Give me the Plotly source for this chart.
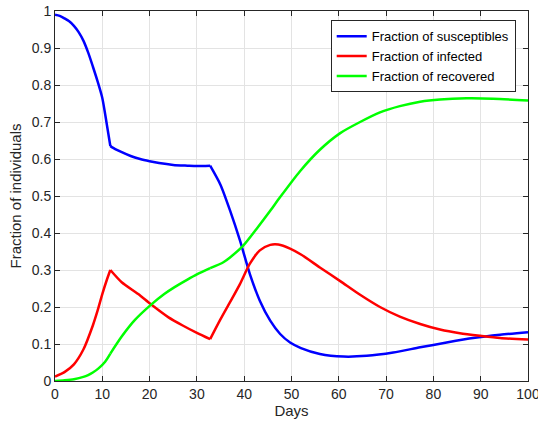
import plotly.graph_objects as go

t_s = [0, 1, 2, 3, 4, 5, 6, 7, 8, 9, 10, 11, 11.7,
       12, 14, 16, 18, 20, 22, 25, 28, 30, 32.8,
       35, 37, 39.1, 41.2, 43.3, 45.5, 47.6, 49.7, 52, 56, 61, 65.9, 71.5, 77.2, 82.8, 88.4, 94.1, 100]
susceptible = [0.99, 0.987, 0.98, 0.972, 0.96, 0.943, 0.92, 0.888, 0.85, 0.81, 0.765, 0.69, 0.635,
               0.632, 0.619, 0.608, 0.6, 0.594, 0.589, 0.584, 0.582, 0.581, 0.582,
               0.53, 0.461, 0.38, 0.289, 0.217, 0.163, 0.127, 0.104, 0.089, 0.073, 0.066, 0.068, 0.077, 0.091, 0.104, 0.116, 0.125, 0.132]

t_i = [0, 2, 4, 6, 8, 9, 10, 11, 11.7,
       14.1, 17.6, 20.2, 24, 27, 30, 32.8,
       35, 37, 39.1, 41.2, 43.3, 45.5, 47.2, 49.7, 52, 56, 60.3, 64.5, 68.7, 72.9, 77.2, 81.4, 85.6, 89.9, 94.1, 100]
infected = [0.012, 0.024, 0.045, 0.085, 0.15, 0.19, 0.235, 0.275, 0.30,
            0.267, 0.235, 0.208, 0.172, 0.15, 0.13, 0.113,
            0.167, 0.213, 0.262, 0.317, 0.353, 0.368, 0.369, 0.358, 0.342, 0.307, 0.27, 0.233, 0.2, 0.174, 0.154, 0.139, 0.129, 0.122, 0.116, 0.112]

t_r = [0, 2, 4, 6, 7, 8, 9.2, 10.6, 11.7,
       14.1, 16.9, 20.2, 23.1, 25.2, 28, 30, 32.8,
       35.6, 37, 39.8, 42.6, 45.5, 47.6, 51.8, 56, 60.3, 64.5, 68.7, 72.9, 77.2, 81.4, 87, 92.6, 100]
recovered = [0.0, 0.002, 0.005, 0.011, 0.016, 0.023, 0.034, 0.052, 0.074,
             0.12, 0.165, 0.205, 0.235, 0.253, 0.274, 0.288, 0.305,
             0.321, 0.334, 0.366, 0.411, 0.46, 0.497, 0.567, 0.625, 0.67, 0.70, 0.726, 0.743, 0.755, 0.761, 0.764, 0.763, 0.758]

kinks = [11.7, 32.8]  # days where the contact rate switches

x_ticks = list(range(0, 101, 10))
y_ticks = [0, 0.1, 0.2, 0.3, 0.4, 0.5, 0.6, 0.7, 0.8, 0.9, 1]
y_labels = ["0", "0.1", "0.2", "0.3", "0.4", "0.5", "0.6", "0.7", "0.8", "0.9", "1"]

FONT = "Liberation Sans, Arial"


def segments(t, v):
    bounds = [min(t)] + kinks + [max(t)]
    segs = []
    for a, b in zip(bounds[:-1], bounds[1:]):
        xs = [ti for ti in t if a <= ti <= b]
        ys = [vi for ti, vi in zip(t, v) if a <= ti <= b]
        segs.append((xs, ys))
    return segs


fig = go.Figure()
for t, v, name, color in [(t_s, susceptible, "Fraction of susceptibles", "#0000ff"),
                          (t_i, infected, "Fraction of infected", "#ff0000"),
                          (t_r, recovered, "Fraction of recovered", "#00ff00")]:
    for k, (xs, ys) in enumerate(segments(t, v)):
        fig.add_trace(go.Scatter(x=xs, y=ys, mode="lines", name=name, legendgroup=name,
                                 showlegend=(k == 0),
                                 line=dict(color=color, width=2.5, shape="spline", smoothing=0.7)))

axis_common = dict(showgrid=True, gridcolor="#e3e3e3", gridwidth=1, zeroline=False,
                   showline=True, linecolor="#262626", linewidth=1, mirror="ticks",
                   ticks="inside", ticklen=5, tickcolor="#262626", automargin=False,
                   tickfont=dict(family=FONT, size=14, color="#262626"))

fig.update_xaxes(range=[0, 100], tickvals=x_ticks, ticklabeloverflow="allow",
                 title=dict(text="Days", font=dict(family=FONT, size=15, color="#262626"), standoff=4), **axis_common)
fig.update_yaxes(range=[0, 1], tickvals=y_ticks, ticktext=y_labels,
                 title=dict(text="Fraction of individuals", font=dict(family=FONT, size=15, color="#262626"), standoff=6), **axis_common)

fig.update_layout(
    width=538, height=427,
    margin=dict(l=55, r=10, t=11, b=46),
    paper_bgcolor="white", plot_bgcolor="white",
    showlegend=True,
    legend=dict(x=0.974, y=0.975, xanchor="right", yanchor="top",
                bgcolor="white", bordercolor="#262626", borderwidth=1,
                font=dict(family=FONT, size=13, color="#000000"),
                tracegroupgap=0, itemwidth=30),
)

fig.write_html("out.html")
